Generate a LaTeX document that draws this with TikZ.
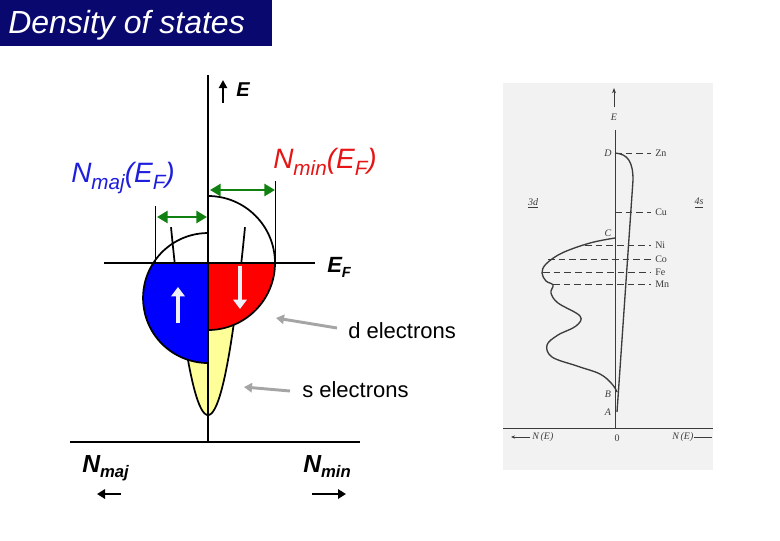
\documentclass[tikz,border=0pt]{standalone}
\usepackage{fontspec}
\setmainfont{Liberation Sans}
\newfontfamily\scanfont{Liberation Serif}
\usetikzlibrary{arrows.meta}
\definecolor{titlenavy}{RGB}{8,8,110}
\definecolor{dblue}{RGB}{0,0,255}
\definecolor{dred}{RGB}{255,0,0}
\definecolor{syellow}{RGB}{255,255,153}
\definecolor{dgreen}{RGB}{16,128,16}
\definecolor{lblue}{RGB}{30,30,220}
\definecolor{lred}{RGB}{230,20,20}
\definecolor{pointgray}{RGB}{165,165,165}
\definecolor{spinwhite}{RGB}{240,240,248}
\definecolor{scanbg}{RGB}{242,242,242}
\definecolor{scanink}{RGB}{60,60,60}
\newcommand{\lowsub}[2][0.28em]{\raisebox{-#1}{#2}}
\tikzset{
  axisline/.style={line width=2.2pt, draw=black},
  outl/.style={line width=1.3pt, draw=black},
  thinline/.style={line width=0.7pt, draw=black},
  widtharrow/.style={line width=2.2pt, dgreen, {Triangle[length=8pt,width=9pt]}-{Triangle[length=8pt,width=9pt]}},
  spinarrow/.style={line width=3.6pt, spinwhite, -{Triangle[length=7pt,width=10pt]}},
  pointer/.style={line width=2.2pt, pointgray, -{Triangle[length=6pt,width=7pt]}},
  dirarrow/.style={line width=2pt, black, -{Triangle[length=6pt,width=7pt]}},
  lbl/.style={inner sep=0pt, anchor=base west},
  scanline/.style={line width=0.6pt, scanink},
  scandash/.style={line width=0.6pt, scanink, dash pattern=on 5pt off 3pt},
  scanlbl/.style={inner sep=0pt, text=scanink, font=\scanfont\fontsize{7.5}{8}\selectfont},
  scanit/.style={scanlbl, font=\scanfont\itshape\fontsize{7.5}{8}\selectfont},
}
\begin{document}
\begin{tikzpicture}[x=0.75pt,y=-0.75pt]
\useasboundingbox (0,0) rectangle (780,540);
% title
\fill[titlenavy] (0,0) rectangle (272,46);
\node[lbl, text=white, font=\fontsize{24}{28}\selectfont\itshape] (title) at (8,33) {Density of states};

% ---------------- left diagram ----------------
% s band (yellow parabola)
\fill[syellow] plot[domain=-33.3:33.3,samples=50] ({208+\x},{415-(\x/2.7)^2}) -- cycle;
\draw[outl] plot[domain=0:37,samples=40] ({208+\x},{415-(\x/2.7)^2});
\draw[outl] plot[domain=0:37,samples=40] ({208-\x},{415-(\x/2.7)^2});
% majority d band (blue)
\filldraw[outl, fill=dblue] (208,263) -- (153.3,263) arc[start angle=212.6, end angle=90, radius=65] -- cycle;
\draw[outl] (153.3,263) arc[start angle=212.6, end angle=270, radius=65];
% minority d band (red)
\filldraw[outl, fill=dred] (208,263) -- (275,263) arc[start angle=0, end angle=90, radius=67] -- cycle;
\draw[outl] (275,263) arc[start angle=0, end angle=-90, radius=67];

% thin guide lines
\coordinate (gRtop) at (275,181); \coordinate (gRbot) at (275,263);
\coordinate (gLtop) at (155,206); \coordinate (gLbot) at (155,263);
\draw[thinline] (gRtop) -- (gRbot);
\draw[thinline] (gLtop) -- (gLbot);

% axes
\coordinate (axTop) at (208,75); \coordinate (axBot) at (208,442);
\coordinate (efL) at (104,263); \coordinate (efR) at (315,263);
\coordinate (nL) at (70,442); \coordinate (nR) at (360,442);
\draw[axisline] (efL) -- (efR);
\draw[axisline] (nL) -- (nR);
\draw[axisline] (axTop) -- (axBot);

% spin arrows
\coordinate (upS) at (178,323); \coordinate (upE) at (178,287);
\coordinate (dnS) at (240,266); \coordinate (dnE) at (240,309);
\draw[spinarrow] (upS) -- (upE);
\draw[spinarrow] (dnS) -- (dnE);

% green width arrows
\coordinate (wa1) at (210,190); \coordinate (wa2) at (275,190);
\coordinate (wb1) at (157,217); \coordinate (wb2) at (207,217);
\draw[widtharrow] (wa1) -- (wa2);
\draw[widtharrow] (wb1) -- (wb2);

% E arrow and label
\coordinate (eS) at (223,103); \coordinate (eE) at (223,80);
\draw[line width=1.8pt, -{Triangle[length=6pt,width=6pt]}] (eS) -- (eE);
\node[lbl, font=\fontsize{15}{18}\selectfont\bfseries\itshape] (Elab) at (236,96) {E};

% E_F label
\node[lbl, font=\fontsize{16.5}{19}\selectfont\bfseries\itshape] (EFlab) at (327,272) {E\lowsub[0.25em]{\fontsize{11}{12}\selectfont F}};

% N(E_F) labels
\node[lbl, text=lblue, font=\fontsize{21}{24}\selectfont\itshape] (Nmaj) at (71,182)
  {N\lowsub{\fontsize{15.5}{16}\selectfont maj}(E\lowsub{\fontsize{15.5}{16}\selectfont F})};
\node[lbl, text=lred, font=\fontsize{21}{24}\selectfont\itshape] (Nmin) at (273,168)
  {N\lowsub{\fontsize{15.5}{16}\selectfont min}(E\lowsub{\fontsize{15.5}{16}\selectfont F})};

% electrons labels and pointers
\node[lbl, font=\fontsize{16.5}{19}\selectfont] (dlab) at (348,338) {d electrons};
\node[lbl, font=\fontsize{16.5}{19}\selectfont] (slab) at (302,397) {s electrons};
\coordinate (dpS) at (337,328); \coordinate (dpE) at (276,318);
\coordinate (spS) at (290,391); \coordinate (spE) at (244,387);
\draw[pointer] (dpS) -- (dpE);
\draw[pointer] (spS) -- (spE);

% N_maj / N_min bottom
\node[lbl, font=\fontsize{18.5}{21}\selectfont\bfseries\itshape] (Nmajb) at (82,472) {N\lowsub[0.22em]{\fontsize{12.5}{14}\selectfont maj}};
\node[lbl, font=\fontsize{18.5}{21}\selectfont\bfseries\itshape] (Nminb) at (303,472) {N\lowsub[0.22em]{\fontsize{12.5}{14}\selectfont min}};
\coordinate (baL1) at (121,494); \coordinate (baL2) at (97,494);
\coordinate (baR1) at (312,494); \coordinate (baR2) at (346,494);
\draw[dirarrow] (baL1) -- (baL2);
\draw[dirarrow] (baR1) -- (baR2);

% ---------------- right (scanned) figure ----------------
\fill[scanbg] (503,83) rectangle (713,470);
\coordinate (sAxTop) at (615,130); \coordinate (sAxBot) at (615,428);
\coordinate (sHL) at (503,428); \coordinate (sHR) at (713,428);
\draw[scanline, line width=0.5pt] (sAxTop) -- (sAxBot);
\draw[scanline, line width=0.5pt] (sHL) -- (sHR);
\coordinate (sEa) at (614,107); \coordinate (sEb) at (614,88);
\draw[scanline, -{Stealth[length=4pt,width=3pt]}] (sEa) -- (sEb);
\node[scanit] (sE) at (614,117) {E};

% dashed levels
\foreach \nm/\xs/\yy in {Zn/615/153, Cu/615/212, Ni/585/245, Co/548/259, Fe/543/272, Mn/553/284}{
  \coordinate (d\nm a) at (\xs,\yy); \coordinate (d\nm b) at (651,\yy);
  \draw[scandash] (d\nm a) -- (d\nm b);
  \node[scanlbl, anchor=west] (l\nm) at (655,\yy) {\nm};
}

% 4s curve
\coordinate (pD) at (615,153); \coordinate (pD2) at (633,180); \coordinate (pA) at (617,412);
\draw[scanline, line width=1pt] (pD) .. controls (628,154) and (633,162) .. (pD2) -- (pA);
% 3d curve
\draw[scanline, line width=1pt] plot[smooth, tension=0.6] coordinates {
  (615,238) (590,243) (562,253) (546,264) (542,273) (546,281) (553,285) (551,293)
  (558,303) (580,316) (576,326) (558,335) (547,345) (552,357) (577,366) (600,374) (612,384) (617,392)};

% point labels
\node[scanit] (lD) at (608,153) {D};
\node[scanit] (lC) at (608,233) {C};
\node[scanit] (lB) at (608,394) {B};
\node[scanit] (lA) at (608,412) {A};
\node[scanit] (l3d) at (533,203) {\underline{3d}};
\node[scanit] (l4s) at (699,203) {\underline{4s}};

% bottom labels
\node[scanit, anchor=west] (nEl) at (532,437) {N\,(E)};
\coordinate (nEla) at (530,437); \coordinate (nElb) at (511,437);
\draw[scanline, -{Stealth[length=3pt,width=2.5pt]}] (nEla) -- (nElb);
\node[scanlbl] (zero) at (617,438) {0};
\node[scanit, anchor=west] (nEr) at (672,437) {N\,(E)};
\coordinate (nEra) at (nEr.east); \coordinate (nErb) at (712,437);
\draw[scanline] (nEra) -- (nErb);
\end{tikzpicture}
\end{document}
